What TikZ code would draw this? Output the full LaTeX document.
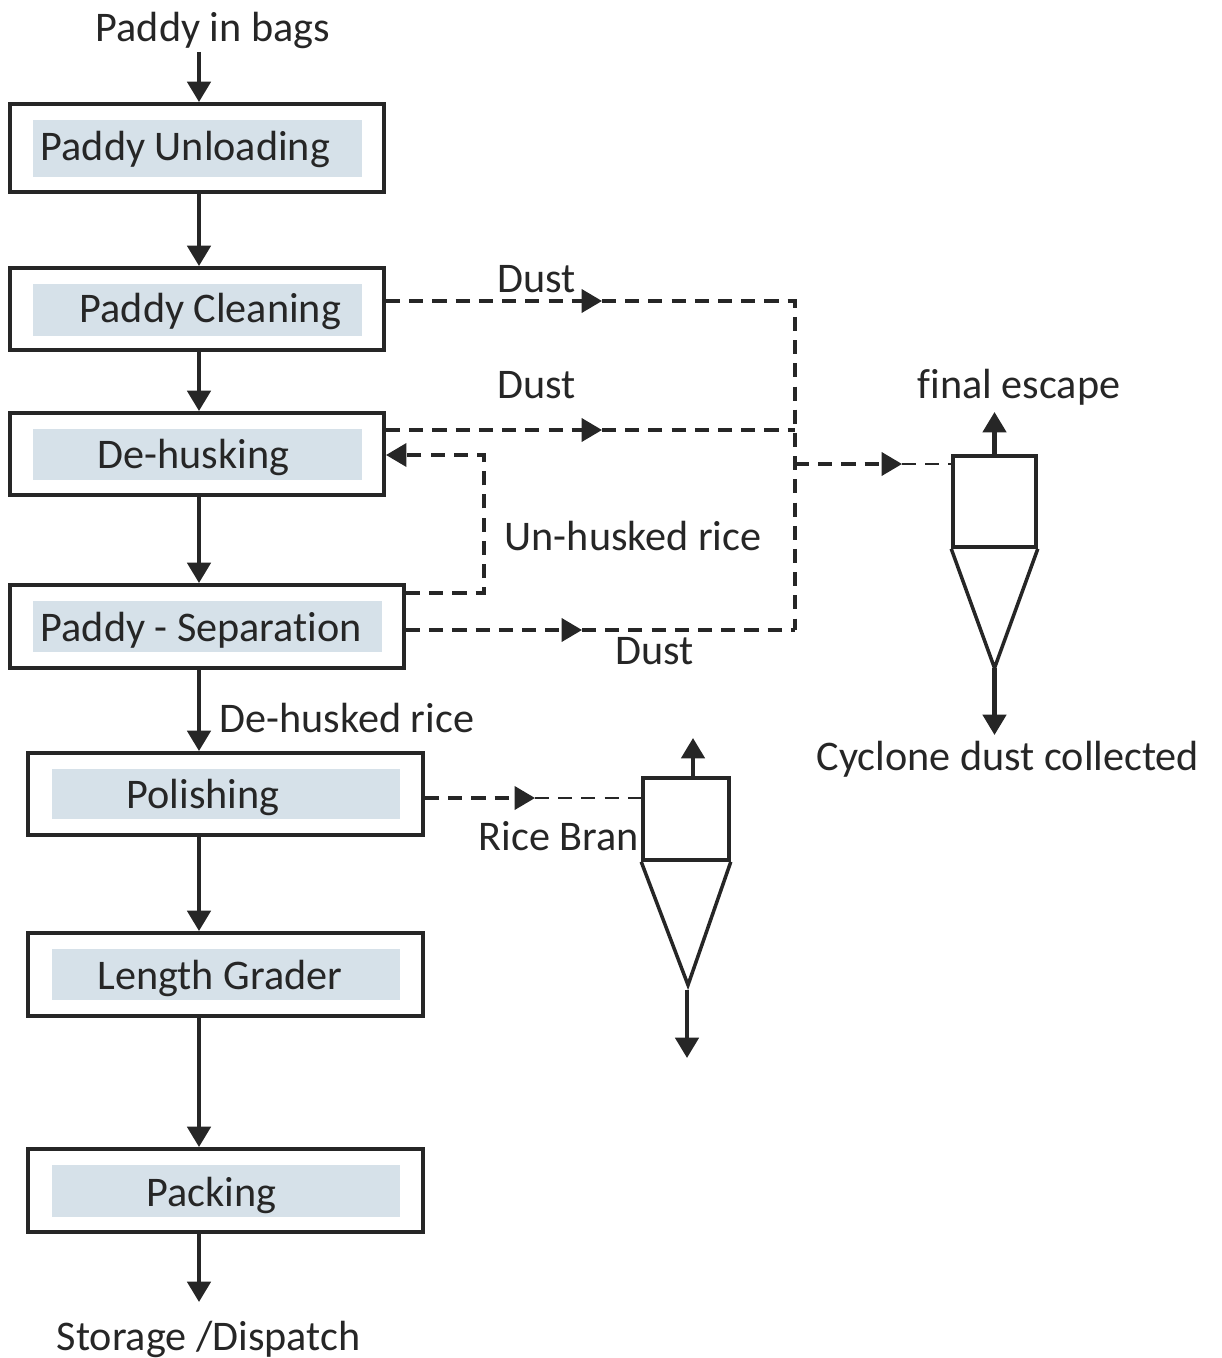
\documentclass[tikz,border=0pt]{standalone}
\usepackage{fontspec}
\setmainfont{Carlito}[Ligatures=CommonOff]
\usetikzlibrary{arrows.meta}
\definecolor{panelblue}{HTML}{D6E1E9}
\definecolor{inkgrey}{HTML}{262626}
\tikzset{
  stage/.style={draw=inkgrey, line width=1.1pt, inner sep=0pt, minimum height=0.82cm},
  label/.style={anchor=base west, inner sep=0pt, text=inkgrey, font=\fontsize{12}{14}\selectfont},
  flow/.style={draw=inkgrey, line width=1.2pt, -{Triangle[length=5.8pt,width=6.6pt]}},
  dust/.style={draw=inkgrey, line width=0.9pt, dash pattern=on 4pt off 2.6pt},
  dustarrow/.style={dust, -{Triangle[length=5.8pt,width=6.6pt]}},
  cyclone/.style={draw=inkgrey, line width=1pt, inner sep=0pt}
}
\begin{document}
\begin{tikzpicture}[x=0.01cm, y=-0.01cm]
    \useasboundingbox (0,0) rectangle (1221,1358);

    % Main process boxes
    \node[stage, minimum width=3.74cm, minimum height=0.88cm] (unload) at (197,148) {};
    \node[stage, minimum width=3.74cm] (clean) at (197,309) {};
    \node[stage, minimum width=3.74cm] (dehusk) at (197,454) {};
    \node[stage, minimum width=3.94cm, minimum height=0.83cm] (separate) at (207,626.5) {};
    \node[stage, minimum width=3.95cm] (polish) at (225.5,794) {};
    \node[stage, minimum width=3.95cm, minimum height=0.83cm] (grader) at (225.5,974.5) {};
    \node[stage, minimum width=3.95cm, minimum height=0.83cm] (pack) at (225.5,1190.5) {};

    % Shaded panels inside the boxes
    \fill[panelblue] (33,120) rectangle (362,177);
    \fill[panelblue] (33,284) rectangle (362,336);
    \fill[panelblue] (33,429) rectangle (362,480);
    \fill[panelblue] (33,601) rectangle (382,652);
    \fill[panelblue] (52,769) rectangle (400,819);
    \fill[panelblue] (52,949) rectangle (400,1000);
    \fill[panelblue] (52,1165) rectangle (400,1217);

    % Box texts
    \node[label] (unloadtxt) at (40,161) {Paddy Unloading};
    \node[label] (cleantxt) at (79,323) {Paddy Cleaning};
    \node[label] (dehusktxt) at (97,468) {De-husking};
    \node[label] (separatetxt) at (40,641) {Paddy - Separation};
    \node[label] (polishtxt) at (126,808) {Polishing};
    \node[label] (gradertxt) at (97,989) {Length Grader};
    \node[label] (packtxt) at (146,1206) {Packing};

    % Input and output
    \node[label] (input) at (95,42) {Paddy in bags};
    \node[label] (output) at (56,1350) {Storage /Dispatch};
    \coordinate (spine) at (199,0);
    \coordinate (intop) at (199,52);
    \coordinate (outend) at (199,1302);

    % Main flow
    \draw[flow] (intop) -- (unload.north -| spine);
    \draw[flow] (unload.south -| spine) -- (clean.north -| spine);
    \draw[flow] (clean.south -| spine) -- (dehusk.north -| spine);
    \draw[flow] (dehusk.south -| spine) -- (separate.north -| spine);
    \draw[flow] (separate.south -| spine) -- (polish.north -| spine);
    \draw[flow] (polish.south -| spine) -- (grader.north -| spine);
    \draw[flow] (grader.south -| spine) -- (pack.north -| spine);
    \draw[flow] (pack.south -| spine) -- (outend);
    \node[label] (dehusked) at (219,732) {De-husked rice};

    % Dust collection lines
    \coordinate (d1tip) at (602,301);
    \coordinate (d2tip) at (602,430);
    \coordinate (d3tip) at (582,630);
    \coordinate (bus1) at (795,301);
    \coordinate (bus2) at (795,430);
    \coordinate (bus3) at (795,630);
    \coordinate (feed) at (795,464);
    \coordinate (d4tip) at (902,464);
    \draw[dustarrow] (clean.east |- d1tip) -- (d1tip);
    \draw[dust] (d1tip) -- (bus1) -- (bus3);
    \draw[dustarrow] (dehusk.east |- d2tip) -- (d2tip);
    \draw[dust] (d2tip) -- (bus2);
    \draw[dustarrow] (separate.east |- d3tip) -- (d3tip);
    \draw[dust] (d3tip) -- (bus3);
    \node[label] (dust1) at (497,293) {Dust};
    \node[label] (dust2) at (497,398) {Dust};
    \node[label] (dust3) at (615,664) {Dust};

    % Un-husked rice return
    \coordinate (ret1) at (484,593);
    \coordinate (ret2) at (484,455);
    \draw[dustarrow] (separate.east |- ret1) -- (ret1) -- (ret2) -- (dehusk.east |- ret2);
    \node[label] (unhusked) at (504,550) {Un-husked rice};

    % Dust cyclone
    \node[cyclone, minimum width=0.83cm, minimum height=0.91cm] (cyc1) at (994.5,501.5) {};
    \coordinate (cyc1tip) at (994.5,668);
    \coordinate (cyc1up) at (994.5,412);
    \coordinate (cyc1down) at (994.5,735);
    \draw[cyclone] (cyc1.south west) -- (cyc1tip) -- (cyc1.south east);
    \draw[dustarrow] (feed) -- (d4tip);
    \draw[dust, line width=0.7pt] (d4tip) -- (cyc1.west |- feed);
    \draw[flow] (cyc1.north) -- (cyc1up);
    \draw[flow] (cyc1tip) -- (cyc1down);
    \node[label] (escape) at (917,398) {final escape};
    \node[label] (collected) at (816,770) {Cyclone dust collected};

    % Bran cyclone
    \node[cyclone, minimum width=0.86cm, minimum height=0.82cm] (cyc2) at (686,819) {};
    \coordinate (cyc2tip) at (688,985);
    \coordinate (b1tip) at (535,798);
    \coordinate (cyc2top) at (693,778);
    \coordinate (cyc2up) at (693,738);
    \coordinate (cyc2out) at (687,990);
    \coordinate (cyc2down) at (687,1058);
    \draw[cyclone] (cyc2.south west) -- (cyc2tip) -- (cyc2.south east);
    \draw[dustarrow] (polish.east |- b1tip) -- (b1tip);
    \draw[dust, line width=0.7pt] (b1tip) -- (cyc2.west |- b1tip);
    \draw[flow] (cyc2top) -- (cyc2up);
    \draw[flow] (cyc2out) -- (cyc2down);
    \node[label] (bran) at (478,850) {Rice Bran};
\end{tikzpicture}
\end{document}
